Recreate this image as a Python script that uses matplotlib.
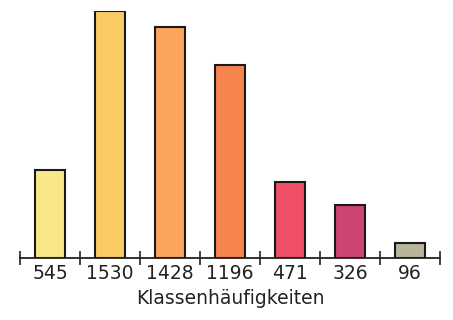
import numpy as np
import matplotlib.pyplot as plt

# Klassenhäufigkeiten
labels = ["545", "1530", "1428", "1196", "471", "326", "96"]
counts = [545, 1530, 1428, 1196, 471, 326, 96]
colors = ["#F8E88A", "#F9CB62", "#FBA55A", "#F7834F", "#EE4E66", "#CC4570", "#B8B49A"]

fig = plt.figure(figsize=(4.53, 3.20), dpi=100)
ax = fig.add_axes([20 / 453, 62 / 320, 420 / 453, 247 / 320])

x = np.arange(len(counts))
ax.bar(x, counts, width=0.5, color=colors, edgecolor="#1a1a1a", linewidth=1.5)

ax.set_xlim(-0.5, len(counts) - 0.5)
ax.set_ylim(0, max(counts))

for side in ["top", "right", "left"]:
    ax.spines[side].set_visible(False)
ax.spines["bottom"].set_linewidth(1.3)
ax.spines["bottom"].set_color("#222222")
ax.spines["bottom"].set_clip_on(False)

ax.set_yticks([])
# value labels under bar centres, tick marks between the bars
ax.set_xticks(x)
ax.set_xticklabels(labels, fontsize=13.5, color="#222222")
ax.tick_params(axis="x", which="major", length=0, pad=4)
ax.set_xticks(np.arange(-0.5, len(counts)), minor=True)
ax.tick_params(axis="x", which="minor", length=10, width=1.2,
               direction="inout", color="#222222")

ax.set_xlabel("Klassenhäufigkeiten", fontsize=13.5, color="#222222", labelpad=5)

fig.savefig("out.png", dpi=100)
